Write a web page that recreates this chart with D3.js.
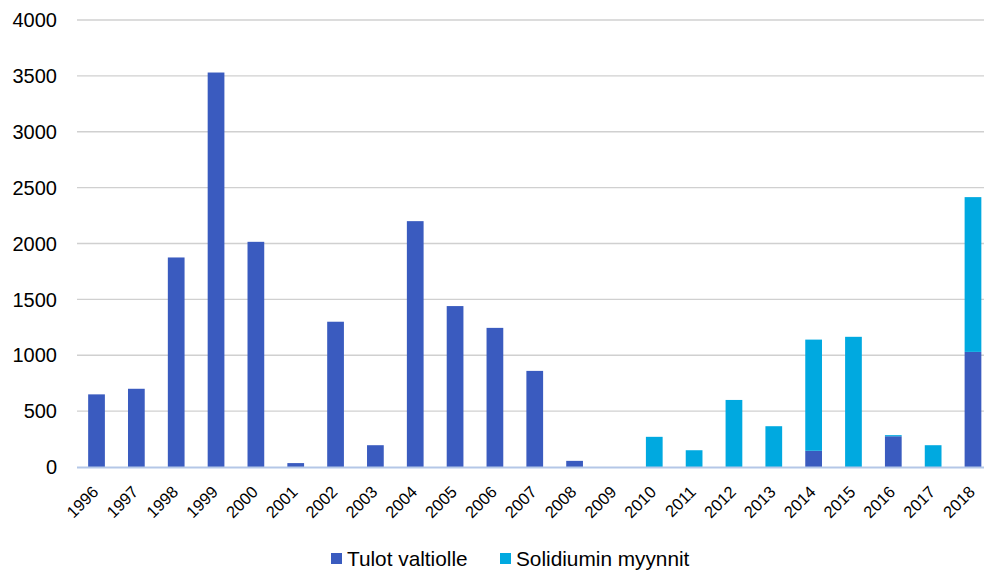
<!DOCTYPE html>
<html><head><meta charset="utf-8">
<script src="https://cdn.jsdelivr.net/npm/d3@7"></script>
<style>body{margin:0;background:#fff;} text{font-family:"Liberation Sans",Arial,sans-serif;fill:#000;}</style>
</head><body><svg id="c" width="984" height="571"></svg>
<script>
const years = ["1996","1997","1998","1999","2000","2001","2002","2003","2004","2005","2006","2007","2008","2009","2010","2011","2012","2013","2014","2015","2016","2017","2018"];
const tulotValtiolle = [650,700,1875,3530,2015,35,1300,195,2200,1440,1245,860,55,0,0,0,0,0,145,0,275,0,1030];
const solidiuminMyynnit = [0,0,0,0,0,0,0,0,0,0,0,0,0,0,270,150,600,365,995,1165,10,195,1385];
const seriesNames = ["Tulot valtiolle","Solidiumin myynnit"];
const colors = ["#3A5BBF","#00A9E0"];
const yTicks = [0,500,1000,1500,2000,2500,3000,3500,4000];

const svg = d3.select("#c");
const x = d3.scaleBand().domain(years).range([76.6, 992.9]).paddingInner(0.58).paddingOuter(0.29);
const y = d3.scaleLinear().domain([0,4000]).range([467,20]);

// gridlines
svg.append("g").selectAll("line").data(yTicks.filter(d=>d>0)).join("line")
  .attr("x1",77).attr("x2",984).attr("y1",d=>y(d)).attr("y2",d=>y(d))
  .attr("stroke","#d0d0d0").attr("stroke-width",1.3);

// y labels
svg.append("g").selectAll("text").data(yTicks).join("text")
  .attr("x",57).attr("y",d=>y(d)).attr("dy","0.36em").attr("text-anchor","end")
  .style("font-size","20px").text(d=>d);

const table = years.map((yr,i)=>({year:yr, t:tulotValtiolle[i], s:solidiuminMyynnit[i]}));
const stack = d3.stack().keys(["t","s"])(table);

svg.append("g").selectAll("g").data(stack).join("g").attr("fill",(d,i)=>colors[i])
  .selectAll("rect").data(d=>d.filter(p=>p[1]-p[0]>0)).join("rect")
  .attr("x",d=>x(d.data.year)).attr("width",x.bandwidth())
  .attr("y",d=>y(d[1])).attr("height",d=>y(d[0])-y(d[1]));

// axis line
svg.append("line").attr("x1",77).attr("x2",984).attr("y1",y(0)+0.5).attr("y2",y(0)+0.5)
  .attr("stroke","#B4C7E7").attr("stroke-width",2);

// x labels
svg.append("g").selectAll("text").data(years).join("text")
  .attr("transform",d=>`translate(${x(d)+x.bandwidth()/2+3},${493}) rotate(-45)`)
  .attr("text-anchor","end").style("font-size","16.5px").text(d=>d);

// legend
const leg = svg.append("g");
const legX = [331,500];
seriesNames.forEach((n,i)=>{
  leg.append("rect").attr("x",legX[i]).attr("y",553).attr("width",11).attr("height",11).attr("fill",colors[i]);
  leg.append("text").attr("x",legX[i]+16).attr("y",566).style("font-size","20.8px").text(n);
});
</script></body></html>
